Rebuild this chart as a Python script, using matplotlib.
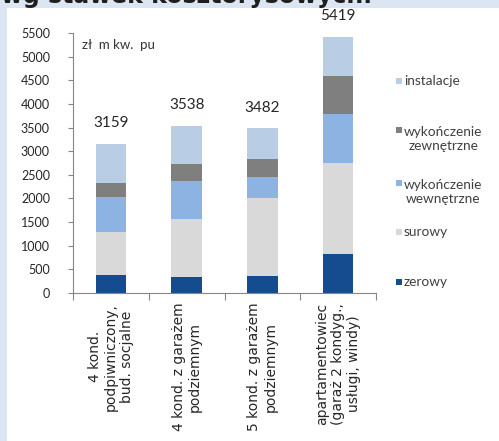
import matplotlib.pyplot as plt
from matplotlib.patches import Rectangle
import numpy as np

plt.rcParams['font.family'] = ['Lato', 'DejaVu Sans']

# building types and cost components (zł / m kw. pu)
categories = [
    "4 kond.\npodpiwniczony,\nbud. socjalne",
    "4 kond. z garażem\npodziemnym",
    "5 kond. z garażem\npodziemnym",
    "apartamentowiec\n(garaż 2 kondyg.,\nusługi, windy)",
]
totals = [3159, 3538, 3482, 5419]
zerowy = [390, 330, 360, 830]
surowy = [910, 1230, 1640, 1910]
wewnetrzne = [740, 810, 460, 1040]
zewnetrzne = [280, 350, 370, 810]
instalacje = [t - a - b - c - d for t, a, b, c, d in
              zip(totals, zerowy, surowy, wewnetrzne, zewnetrzne)]

series = [
    ("zerowy", zerowy, "#154b8f"),
    ("surowy", surowy, "#d9d9d9"),
    ("wykończenie\nwewnętrzne", wewnetrzne, "#8db3e2"),
    ("wykończenie\nzewnętrzne", zewnetrzne, "#7f7f7f"),
    ("instalacje", instalacje, "#b9cde5"),
]

W, H = 499, 441
fig = plt.figure(figsize=(W / 100, H / 100), dpi=100, facecolor="#dce6f2")
fig.patches.append(Rectangle((7 / W, 0), 1, 1 - 8 / H, transform=fig.transFigure,
                             facecolor="white", edgecolor="none", zorder=-1))
fig.text(372 / W, 1 - 3 / H, "wg stawek kosztorysowych.", ha="right", va="baseline",
         fontsize=17, fontweight="bold", color="#1f1f1f", family=["DejaVu Sans"])

ax = fig.add_axes([73 / W, 1 - 293 / H, 303 / W, 260 / H])
ax.set_facecolor("none")

x = np.arange(len(categories))
bottom = np.zeros(len(categories))
for name, vals, color in series:
    ax.bar(x, vals, width=0.4, bottom=bottom, color=color, zorder=2)
    bottom += np.array(vals)

for xi, t in zip(x, totals):
    ax.annotate(str(t), (xi, t), xytext=(0, 15), textcoords="offset points",
                ha="center", va="center", fontsize=11, color="#262626",
                annotation_clip=False)

ax.set_xlim(-0.5, len(categories) - 0.5)
ax.set_ylim(0, 5500)
ax.set_yticks(np.arange(0, 5501, 500))
ax.tick_params(axis="y", labelsize=9, colors="#262626", length=3.6, pad=13,
               color="#868686")
ax.set_xticks(np.arange(-0.5, len(categories), 1))
ax.set_xticklabels([])
ax.tick_params(axis="x", length=5, color="#868686")
ax.set_xticks(x, minor=True)
ax.set_xticklabels(categories, minor=True, rotation=90, ha="center", va="top",
                   multialignment="center", fontsize=10, color="#262626",
                   linespacing=1.2, family=["DejaVu Sans"])
ax.tick_params(axis="x", which="minor", length=0, pad=7)

for side in ["top", "right"]:
    ax.spines[side].set_visible(False)
for side in ["left", "bottom"]:
    ax.spines[side].set_color("#868686")

ax.text(0.03, 0.955, "zł  m kw.  pu", transform=ax.transAxes, fontsize=9.5,
        color="#333333", va="center")

# legend drawn by hand on the right, top entry first
legend_text_y = [282, 232, 192, 139, 81]
legend_mark_y = [282, 232, 183, 130, 81]
for (name, vals, color), ty, my in zip(series, legend_text_y, legend_mark_y):
    fig.patches.append(Rectangle((396 / W, 1 - (my + 3) / H), 6 / W, 6 / H,
                                 transform=fig.transFigure, facecolor=color,
                                 edgecolor="none"))
    fig.text(404 / W, 1 - ty / H, name, ha="left", va="center",
             multialignment="center", fontsize=9.8, color="#404040",
             linespacing=1.2)

fig.savefig("out.png", dpi=100, facecolor=fig.get_facecolor())
